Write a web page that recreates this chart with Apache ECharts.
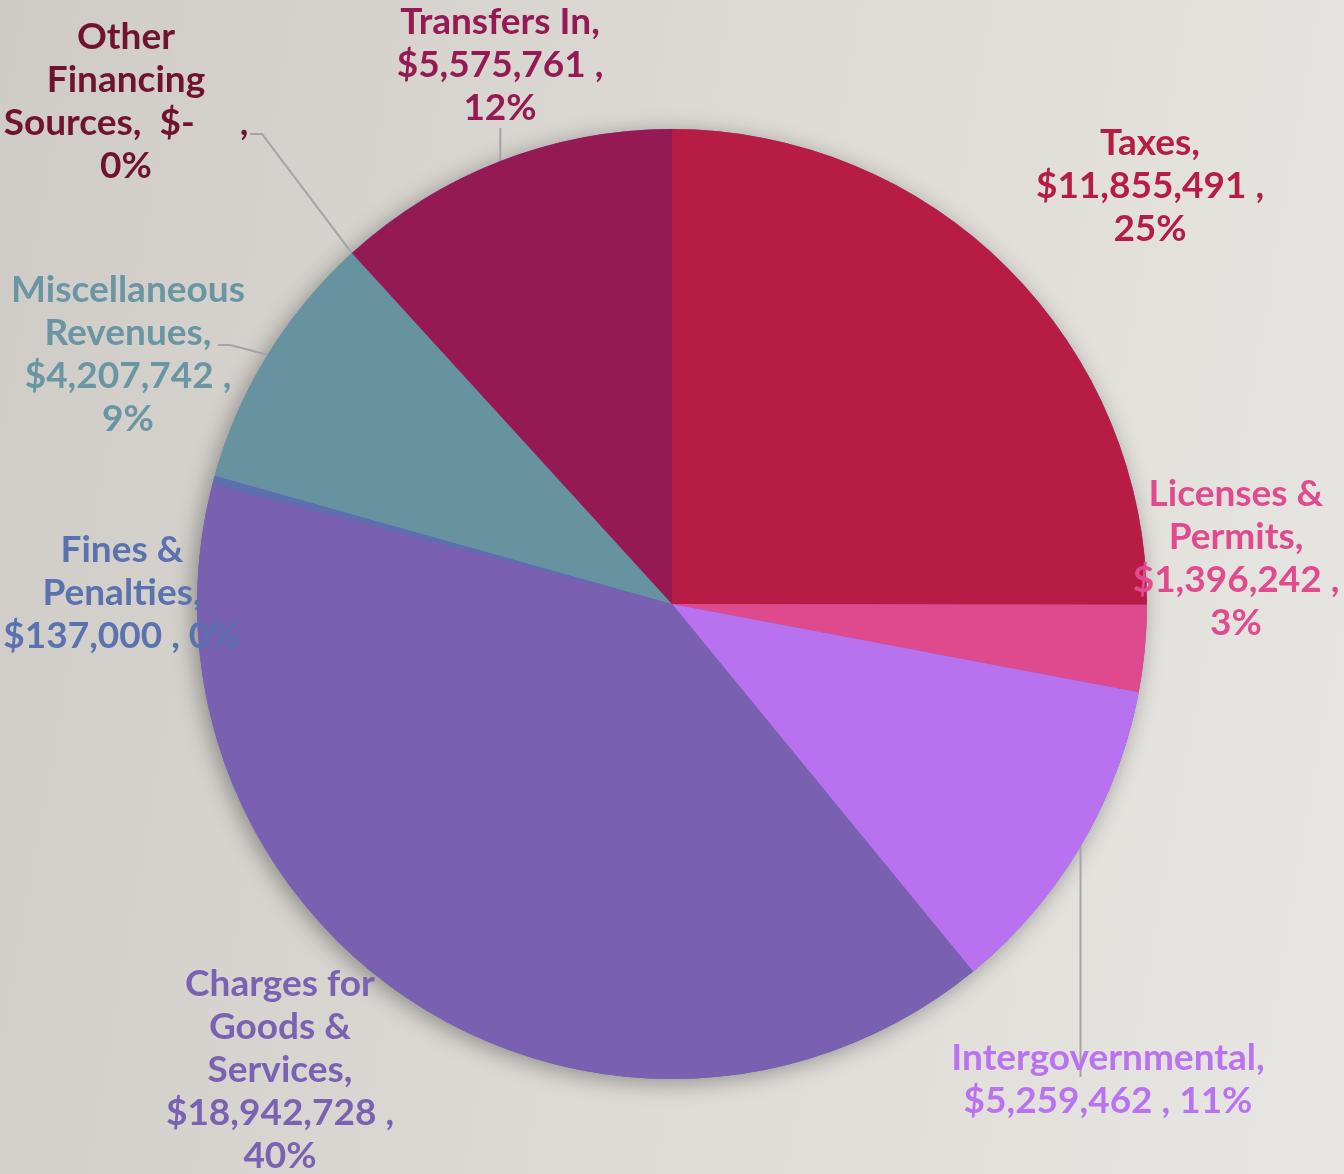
<!DOCTYPE html>
<html>
<head>
<meta charset="utf-8">
<title>Revenue Sources</title>
<script src="https://cdn.jsdelivr.net/npm/echarts@6/dist/echarts.min.js"></script>
<style>
  html, body { margin: 0; padding: 0; }
  #chart {
    width: 1344px;
    height: 1174px;
    background: linear-gradient(100deg, #cfccc7 0%, #dcd9d4 45%, #e8e6e2 100%);
  }
</style>
</head>
<body>
<div id="chart"></div>
<script>
// categories (line breaks as in the source labels)
const categories = [
  "Taxes",
  "Licenses &\nPermits",
  "Intergovernmental",
  "Charges for\nGoods &\nServices",
  "Fines &\nPenalties",
  "Miscellaneous\nRevenues",
  "Other\nFinancing\nSources",
  "Transfers In"
];
// dollar amounts
const amounts = [11855491, 1396242, 5259462, 18942728, 137000, 4207742, 0, 5575761];
// what follows the name / the amount in each label
const nameBreaks = ["\n", "\n", "\n", "\n", "\n", "\n", "  ", "\n"];
const pctBreaks = ["\n", "\n", " ", "\n", " ", "\n", "\n", "\n"];
const withLine = [false, false, true, false, false, true, true, true];

// styles
const sliceColors = ["#b71d44", "#df4a8e", "#b972ef", "#7960b0", "#5b70ad", "#6793a1", "#701330", "#951a53"];
const textColors = ["#b61d44", "#e04a8e", "#ba73f0", "#7a62b2", "#5a72ae", "#6a96a4", "#701330", "#951a53"];
// where each label block sits (centre x, top y)
const labelSpots = [
  [1150, 122], [1236, 473], [1108, 1037], [280, 963],
  [122, 529], [128, 269], [126, 16], [500, 1]
];
// where the leader lines end (null = let echarts decide)
const lineEnds = [null, null, "down", null, null, [218, 345], [250, 134], "up"];

const chart = echarts.init(document.getElementById("chart"), null, { renderer: "canvas" });

function money(v) {
  if (v === 0) return "$-    ";
  return "$" + v.toLocaleString("en-US");
}

const pieCenter = ["50%", "51.45%"];
const pieRadius = 475;

chart.setOption({
  backgroundColor: "transparent",
  textStyle: { fontFamily: "Lato" },
  series: [
    {
      // backdrop disc carrying the soft shadow under the pie
      type: "pie",
      silent: true,
      center: pieCenter,
      radius: pieRadius,
      z: 1,
      label: { show: false },
      labelLine: { show: false },
      itemStyle: {
        color: "#7960b0",
        shadowBlur: 22,
        shadowColor: "rgba(0,0,0,0.35)",
        shadowOffsetX: -4,
        shadowOffsetY: 4
      },
      data: [amounts.reduce((a, b) => a + b, 0)]
    },
    {
      type: "pie",
      center: pieCenter,
      radius: pieRadius,
      startAngle: 90,
      clockwise: true,
      z: 2,
      avoidLabelOverlap: false,
      minAngle: 0,
      data: categories.map((name, i) => ({
        name: name,
        value: amounts[i],
        itemStyle: { color: sliceColors[i] },
        label: { color: textColors[i] },
        labelLine: { show: withLine[i] }
      })),
      label: {
        show: true,
        position: "outside",
        fontFamily: "Lato",
        fontWeight: "bold",
        fontSize: 37,
        lineHeight: 43,
        align: "center",
        formatter: function (p) {
          const i = p.dataIndex;
          return p.name + "," + nameBreaks[i] + money(p.value) + " ," + pctBreaks[i] + Math.round(p.percent) + "%";
        }
      },
      labelLine: {
        show: true,
        length: 20,
        length2: 20,
        smooth: false,
        lineStyle: { color: "#a4a4a4", width: 2 }
      },
      labelLayout: function (params) {
        const i = params.dataIndex;
        const spot = labelSpots[i];
        const out = {
          x: spot[0],
          y: spot[1],
          align: "center",
          verticalAlign: "top",
          hideOverlap: false
        };
        const pts = params.labelLinePoints;
        const end = lineEnds[i];
        if (pts && end) {
          const a = pts[0];
          if (end === "down") {
            out.labelLinePoints = [a, [a[0], spot[1] + 40]];
          } else if (end === "up") {
            out.labelLinePoints = [a, [a[0], spot[1] + 3 * 43 - 2]];
          } else {
            out.labelLinePoints = [a, [end[0] + 12, end[1]], end];
          }
        }
        return out;
      }
    }
  ]
});
</script>
</body>
</html>
